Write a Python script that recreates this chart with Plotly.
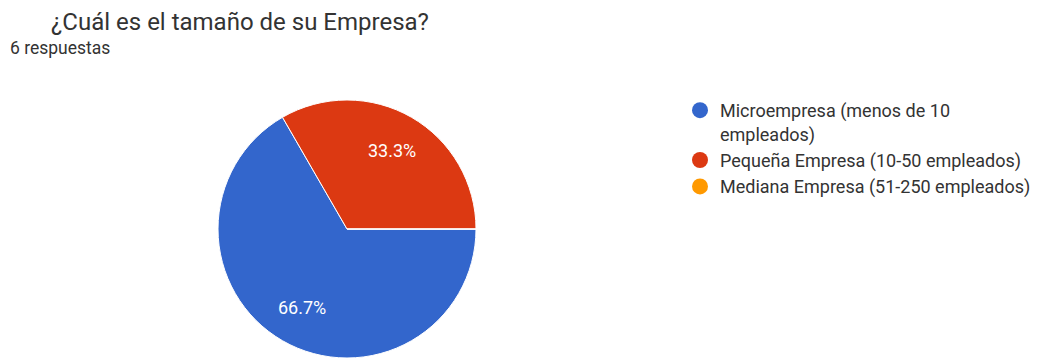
import math
import plotly.graph_objects as go

categories = ["Microempresa (menos de 10<br>empleados)",
              "Pequeña Empresa (10-50 empleados)",
              "Mediana Empresa (51-250 empleados)"]
values = [4, 2, 0]
colors = ["#3366cc", "#dc3912", "#ff9900"]
title_text = "¿Cuál es el tamaño de su Empresa?"
subtitle_text = "6 respuestas"

# page body has an 8px margin, so the figure is offset by (8, 8)
W, H = 1039, 350
cx, cy, r = 339, 221, 129

fig = go.Figure()
fig.add_trace(go.Pie(
    labels=categories, values=values, sort=False, direction="clockwise",
    rotation=90, marker=dict(colors=colors, line=dict(color="white", width=1)),
    textinfo="none", showlegend=False, hoverinfo="label+percent",
    domain=dict(x=[(cx - r) / W, (cx + r) / W], y=[max(0, 1 - (cy + r) / H), 1 - (cy - r) / H]),
))
for name, col in zip(categories, colors):
    fig.add_trace(go.Scatter(x=[None], y=[None], mode="markers", name=name,
                             marker=dict(color=col, size=17, symbol="circle")))

# percentage labels placed along each slice's bisector
total = sum(values)
annotations = []
cum = 0
for v in values:
    if v > 0:
        mid = -(cum + v / 2) / total * 2 * math.pi
        px = cx + 0.7 * r * math.cos(mid)
        py = cy - 0.7 * r * math.sin(mid)
        annotations.append(dict(text=f"{v / total * 100:.1f}%", x=px / W, y=1 - py / H,
                                xref="paper", yref="paper", showarrow=False,
                                xanchor="center", yanchor="middle",
                                font=dict(size=18, color="white", family="Roboto")))
    cum += v

annotations += [
    dict(text=title_text, x=41 / W, y=1 - 14 / H, xref="paper", yref="paper",
         xanchor="left", yanchor="middle", showarrow=False,
         font=dict(size=24, color="#333333", family="Roboto")),
    dict(text=subtitle_text, x=0, y=1 - 40 / H, xref="paper", yref="paper",
         xanchor="left", yanchor="middle", showarrow=False,
         font=dict(size=17.5, color="#333333", family="Roboto")),
]

fig.update_layout(
    width=W, height=H, margin=dict(l=0, r=0, t=0, b=0),
    paper_bgcolor="white", plot_bgcolor="white",
    font=dict(family="Roboto", color="#333333"),
    xaxis=dict(visible=False), yaxis=dict(visible=False),
    legend=dict(x=672 / W, y=1 - 84 / H, xanchor="left", yanchor="top",
                font=dict(size=18, color="#333333", family="Roboto"),
                valign="top", tracegroupgap=0),
    annotations=annotations,
)
fig.write_html("out.html")
